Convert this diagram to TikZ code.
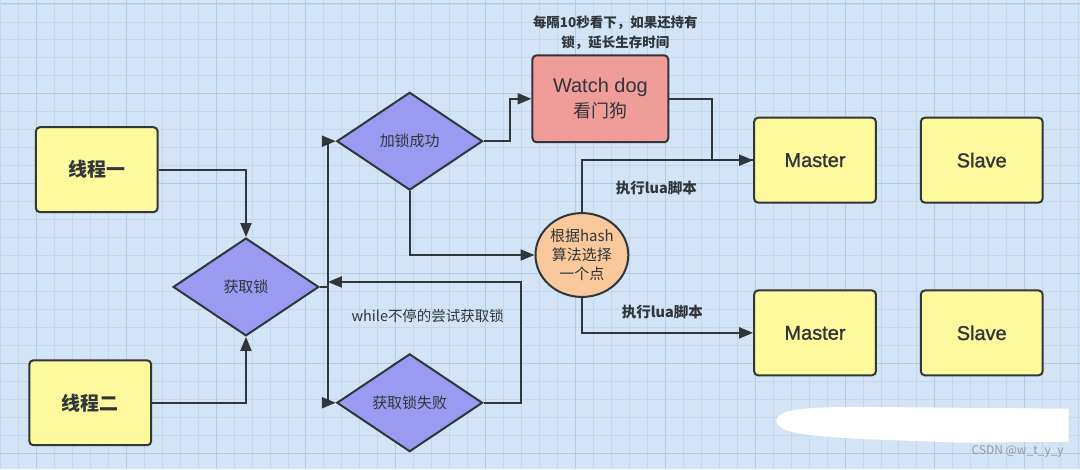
\documentclass[tikz,border=0pt]{standalone}
\usepackage{fontspec}
\setmainfont{Noto Sans CJK SC}
\newfontfamily\latinsans{Liberation Sans}
\newfontfamily\latinmedium{Liberation Sans}[FakeBold=1.3]
\usetikzlibrary{shapes.geometric,arrows.meta}
\definecolor{bgblue}{HTML}{D3E4F7}
\definecolor{gridminor}{HTML}{C2D6EE}
\definecolor{gridmajor}{HTML}{B3CAE6}
\definecolor{inkgray}{HTML}{30363A}
\definecolor{threadyellow}{HTML}{FDF99C}
\definecolor{lockblue}{HTML}{9A9AF2}
\definecolor{dogred}{HTML}{F09C99}
\definecolor{hashorange}{HTML}{F9C99B}

\begin{document}
\begin{tikzpicture}[x=1pt,y=-1pt,
    >={Triangle[length=14pt,width=11pt]},
    flow/.style={draw=inkgray,line width=2pt},
    thread/.style={rectangle,rounded corners=4pt,draw=inkgray,line width=2pt,fill=threadyellow,
      minimum width=122pt,minimum height=85pt,font=\fontsize{19}{22}\selectfont\bfseries,text=inkgray},
    redis/.style={rectangle,rounded corners=4pt,draw=inkgray,line width=2pt,fill=threadyellow,
      minimum width=122pt,minimum height=85pt,font=\latinmedium\fontsize{20}{22}\selectfont,text=inkgray},
    lock/.style={diamond,draw=inkgray,line width=2pt,fill=lockblue,inner sep=0pt,
      minimum width=146pt,minimum height=98pt,font=\fontsize{15}{18}\selectfont,text=inkgray},
    note/.style={font=\fontsize{13.5}{20}\selectfont\bfseries,text=inkgray,align=center},
  ]
    \fill[bgblue] (0,0) rectangle (1080,469);
    \foreach \gx in {-1,17,...,1080}
      \draw[line width=0.8pt,gridminor] (\gx,0) -- (\gx,469);
    \foreach \gy in {3.5,21.5,...,469}
      \draw[line width=0.8pt,gridminor] (0,\gy) -- (1080,\gy);
    \foreach \gx in {35,125,...,1080}
      \draw[line width=0.9pt,gridmajor] (\gx,0) -- (\gx,469);
    \foreach \gy in {3.5,93.5,...,469}
      \draw[line width=0.9pt,gridmajor] (0,\gy) -- (1080,\gy);

    \node[thread] (thread1) at (95.5,169.5) {线程一};
    \node[thread] (thread2) at (89,403) {线程二};
    \node[lock] (getlock) at (245,287) {获取锁};
    \node[lock] (success) at (409,141) {加锁成功};
    \node[lock] (failed) at (409,403) {获取锁失败};
    \node[rectangle,rounded corners=4pt,draw=inkgray,line width=2pt,fill=dogred,minimum width=136pt,
      minimum height=87pt,align=center,font=\fontsize{18}{25}\selectfont,text=inkgray]
      (watchdog) at (600,98.5) {{\latinsans\fontsize{20}{25}\selectfont Watch dog}\\看门狗};
    \node[ellipse,draw=inkgray,line width=2pt,fill=hashorange,minimum width=93pt,minimum height=84pt,
      inner sep=0pt,align=center,font=\fontsize{15}{19}\selectfont,text=inkgray]
      (hash) at (581.5,255) {根据hash\\算法选择\\一个点};
    \node[redis] (master1) at (815,160) {Master};
    \node[redis] (slave1) at (982,160) {Slave};
    \node[redis] (master2) at (815,333) {Master};
    \node[redis] (slave2) at (982,333) {Slave};
    \node[note] (tip) at (615,32) {每隔10秒看下，如果还持有\\锁，延长生存时间};

    \coordinate (join) at (327,287);
    \coordinate (retry) at (327,282);
    \draw[flow,->] (thread1.east) -| (getlock.north);
    \draw[flow,->] (thread2.east) -| (getlock.south);
    \draw[flow] (getlock.east) -- (join);
    \draw[flow,->] (join) |- (success.west);
    \draw[flow,->] (join) |- (failed.west);
    \draw[flow,->] (failed.east) -- ++(37,0) |- (retry);
    \node[font=\fontsize{14.5}{18}\selectfont,text=inkgray] (whilelabel) at (427,316) {while不停的尝试获取锁};
    \draw[flow,->] (success.east) -- ++(26,0) |- (watchdog.west);
    \draw[flow,->] (success.south) |- (hash.west);
    \draw[flow] (watchdog.east) -- ++(42.5,0) |- (master1.west);
    \draw[flow,->] (hash.north) |- (master1.west);
    \draw[flow,->] (hash.south) |- (master2.west);
    \node[note,font=\fontsize{14.5}{18}\selectfont\bfseries] (lua1) at (656,188) {执行lua脚本};
    \node[note,font=\fontsize{14.5}{18}\selectfont\bfseries] (lua2) at (662,312) {执行lua脚本};

    \fill[white] (776,421) .. controls (778,410) and (800,408) .. (850,407) -- (1069,409) -- (1069,442)
      -- (960,443) -- (880,440) .. controls (810,437) and (778,434) .. (776,421) -- cycle;
    \node[font=\fontsize{12}{14}\selectfont,text=gray!80] (mark) at (1018,452) {CSDN @w\_t\_y\_y};
\end{tikzpicture}
\end{document}
